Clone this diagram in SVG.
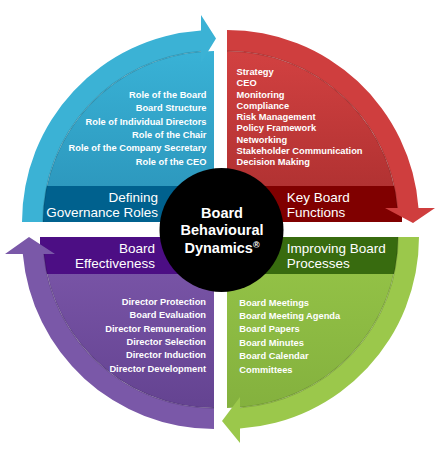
<svg xmlns="http://www.w3.org/2000/svg" width="440" height="455" viewBox="0 0 440 455">
<defs>
<linearGradient id="gBlue" x1="0" y1="0" x2="0" y2="1"><stop offset="0" stop-color="#39b2d6"/><stop offset="1" stop-color="#2a92b8"/></linearGradient>
<linearGradient id="gRed" x1="0" y1="0" x2="0" y2="1"><stop offset="0" stop-color="#d24141"/><stop offset="1" stop-color="#a92e2e"/></linearGradient>
<linearGradient id="gGreen" x1="0" y1="0" x2="0" y2="1"><stop offset="0" stop-color="#96c548"/><stop offset="1" stop-color="#84b13e"/></linearGradient>
<linearGradient id="gPurple" x1="0" y1="0" x2="0" y2="1"><stop offset="0" stop-color="#7d58ab"/><stop offset="1" stop-color="#644391"/></linearGradient>
</defs>
<style>
.list{font-family:"Liberation Sans",Arial,sans-serif;font-size:9.3px;font-weight:bold;fill:#fff}
.title{font-family:"Liberation Sans",Arial,sans-serif;font-size:13.5px;fill:#fff}
.center{font-family:"Liberation Sans",Arial,sans-serif;font-size:14.5px;font-weight:bold;fill:#fff}
.r{text-anchor:end}
.edge{fill:none;stroke:#000;stroke-opacity:0.15;stroke-width:1.5}
</style>
<rect width="440" height="455" fill="#fff"/>

<g id="defining-governance-roles">
<path d="M214,222 L43,222 A171,171 0 0 1 214,51 Z" fill="url(#gBlue)"/>
<rect x="40" y="186" width="174" height="36" fill="#00618e"/>
<text class="title r" x="158" y="201.7">Defining</text>
<text class="title r" x="158" y="216.7">Governance Roles</text>
<g class="list r">
<text x="206.5" y="98">Role of the Board</text>
<text x="206.5" y="111.3">Board Structure</text>
<text x="206.5" y="124.6">Role of Individual Directors</text>
<text x="206.5" y="137.9">Role of the Chair</text>
<text x="206.5" y="151.2">Role of the Company Secretary</text>
<text x="206.5" y="164.5">Role of the CEO</text>
</g>
</g>

<g id="key-board-functions">
<path d="M227,222 L227,51 A171,171 0 0 1 398,222 Z" fill="url(#gRed)"/>
<rect x="227" y="186" width="175" height="36" fill="#800000"/>
<text class="title" x="286.7" y="201.7">Key Board</text>
<text class="title" x="286.7" y="216.7">Functions</text>
<g class="list">
<text x="236.5" y="75">Strategy</text>
<text x="236.5" y="86.25">CEO</text>
<text x="236.5" y="97.5">Monitoring</text>
<text x="236.5" y="108.75">Compliance</text>
<text x="236.5" y="120">Risk Management</text>
<text x="236.5" y="131.25">Policy Framework</text>
<text x="236.5" y="142.5">Networking</text>
<text x="236.5" y="153.75">Stakeholder Communication</text>
<text x="236.5" y="165">Decision Making</text>
</g>
</g>

<g id="improving-board-processes">
<path d="M227,237 L398,237 A171,171 0 0 1 227,408 Z" fill="url(#gGreen)"/>
<rect x="227" y="237" width="175" height="37" fill="#386b0f"/>
<text class="title" x="286.7" y="252.7">Improving Board</text>
<text class="title" x="286.7" y="267.5">Processes</text>
<g class="list">
<text x="239.3" y="305.7">Board Meetings</text>
<text x="239.3" y="319">Board Meeting Agenda</text>
<text x="239.3" y="332.4">Board Papers</text>
<text x="239.3" y="345.8">Board Minutes</text>
<text x="239.3" y="359.2">Board Calendar</text>
<text x="239.3" y="372.6">Committees</text>
</g>
</g>

<g id="board-effectiveness">
<path d="M214,237 L214,408 A171,171 0 0 1 43,237 Z" fill="url(#gPurple)"/>
<rect x="40" y="237" width="174" height="37" fill="#4c0e84"/>
<text class="title r" x="155" y="253">Board</text>
<text class="title r" x="155" y="267.7">Effectiveness</text>
<g class="list r">
<text x="206" y="305">Director Protection</text>
<text x="206" y="318.3">Board Evaluation</text>
<text x="206" y="331.6">Director Remuneration</text>
<text x="206" y="344.9">Director Selection</text>
<text x="206" y="358.2">Director Induction</text>
<text x="206" y="371.5">Director Development</text>
</g>
</g>

<g id="connectors">
<path d="M22,222 A192,192 0 0 1 201,30.4 L201,15 L216,38.5 L201,63 L201,51.5 A171,171 0 0 0 43,222 Z" fill="#3bb2d5"/>
<path class="edge" d="M43,222 A171,171 0 0 1 201,51.5"/>
<path d="M227,30 A192,192 0 0 1 418.5,208 L435,208 L413,223 L385,208 L397.4,208 A171,171 0 0 0 227,51 Z" fill="#cf3e3e"/>
<path class="edge" d="M227,51 A171,171 0 0 1 397.4,208"/>
<path d="M419,237 A192,192 0 0 1 240,428.6 L240,443 L222,421 L240,397 L240,407.5 A171,171 0 0 0 398,237 Z" fill="#9bc84b"/>
<path class="edge" d="M398,237 A171,171 0 0 1 240,407.5"/>
<path d="M214,429 A192,192 0 0 1 22.8,254 L5,254 L29,237 L55,254 L43.8,254 A171,171 0 0 0 214,408 Z" fill="#7a58a8"/>
<path class="edge" d="M214,408 A171,171 0 0 1 43.8,254"/>
</g>

<g id="board-behavioural-dynamics">
<circle cx="221.5" cy="230" r="62" fill="#000"/>
<text class="center" text-anchor="middle" x="222" y="217.5">Board</text>
<text class="center" text-anchor="middle" x="222" y="235">Behavioural</text>
<text class="center" text-anchor="middle" x="222" y="252.5">Dynamics<tspan font-size="9" dy="-5">®</tspan></text>
</g>
</svg>
